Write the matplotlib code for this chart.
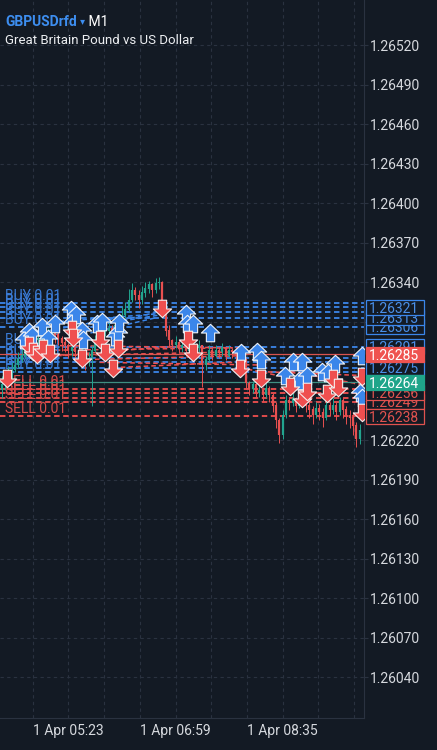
import matplotlib
matplotlib.use('Agg')
import matplotlib.pyplot as plt
from matplotlib.path import Path
from matplotlib.patches import Rectangle
from matplotlib.transforms import blended_transform_factory

plt.rcParams['font.family'] = ['Roboto', 'DejaVu Sans']

BG = '#131a24'
GRID = '#2a3240'
TXT = '#d6d9de'
BLUE = '#3b86ea'
RED = '#ef4f4f'
UPC = '#22a48f'
DNC = '#e85050'


def minutes(hhmm):
    h, m = hhmm.split(':')
    return int(h) * 60 + int(m)


# candles (one bar every 3 minutes from 04:23)
bar_start = '04:23'
bar_step = 3
first_open = 1.26258
closes = [1.26262, 1.26267, 1.26272, 1.26273, 1.26277, 1.26281, 1.26284, 1.26288, 1.26292, 1.26294,
          1.26296, 1.26297, 1.26299, 1.26297, 1.26300, 1.26302, 1.26300, 1.26297, 1.26294, 1.26292,
          1.26288, 1.26290, 1.26287, 1.26284, 1.26288, 1.26281, 1.26282, 1.26288, 1.26296, 1.26300,
          1.26302, 1.26303, 1.26305, 1.26303, 1.26307, 1.26311, 1.26315, 1.26319, 1.26326, 1.26334,
          1.26330, 1.26326, 1.26332, 1.26335, 1.26338, 1.26334, 1.26339, 1.26340, 1.26319, 1.26303,
          1.26296, 1.26292, 1.26294, 1.26290, 1.26292, 1.26288, 1.26294, 1.26291, 1.26290, 1.26292,
          1.26277, 1.26281, 1.26288, 1.26284, 1.26288, 1.26287, 1.26290, 1.26284, 1.26288, 1.26287,
          1.26284, 1.26282, 1.26281, 1.26263, 1.26259, 1.26262, 1.26256, 1.26258, 1.26254, 1.26259,
          1.26254, 1.26246, 1.26235, 1.26224, 1.26239, 1.26250, 1.26248, 1.26252, 1.26246, 1.26250,
          1.26254, 1.26246, 1.26243, 1.26239, 1.26244, 1.26241, 1.26237, 1.26246, 1.26243, 1.26246,
          1.26241, 1.26250, 1.26243, 1.26239, 1.26237, 1.26231, 1.26221, 1.26227]
highs = [1.26269, 1.26272, 1.26276, 1.26279, 1.26282, 1.26287, 1.26290, 1.26293, 1.26296, 1.26299,
         1.26300, 1.26302, 1.26303, 1.26301, 1.26305, 1.26306, 1.26303, 1.26302, 1.26299, 1.26297,
         1.26294, 1.26294, 1.26292, 1.26290, 1.26292, 1.26290, 1.26287, 1.26292, 1.26300, 1.26303,
         1.26306, 1.26308, 1.26310, 1.26307, 1.26311, 1.26316, 1.26322, 1.26325, 1.26335, 1.26339,
         1.26336, 1.26334, 1.26337, 1.26340, 1.26341, 1.26339, 1.26343, 1.26344, 1.26341, 1.26322,
         1.26307, 1.26297, 1.26299, 1.26296, 1.26296, 1.26294, 1.26297, 1.26296, 1.26294, 1.26296,
         1.26292, 1.26284, 1.26292, 1.26290, 1.26292, 1.26291, 1.26294, 1.26291, 1.26292, 1.26290,
         1.26289, 1.26287, 1.26285, 1.26282, 1.26265, 1.26265, 1.26263, 1.26262, 1.26260, 1.26263,
         1.26261, 1.26256, 1.26249, 1.26237, 1.26243, 1.26254, 1.26253, 1.26256, 1.26253, 1.26254,
         1.26258, 1.26256, 1.26249, 1.26246, 1.26249, 1.26247, 1.26244, 1.26250, 1.26249, 1.26252,
         1.26249, 1.26253, 1.26252, 1.26246, 1.26243, 1.26241, 1.26234, 1.26232]
lows = [1.26252, 1.26258, 1.26264, 1.26267, 1.26272, 1.26275, 1.26279, 1.26282, 1.26287, 1.26288,
        1.26291, 1.26293, 1.26294, 1.26293, 1.26296, 1.26297, 1.26294, 1.26292, 1.26288, 1.26287,
        1.26282, 1.26284, 1.26281, 1.26277, 1.26279, 1.26273, 1.26276, 1.26246, 1.26287, 1.26294,
        1.26297, 1.26299, 1.26300, 1.26299, 1.26302, 1.26306, 1.26310, 1.26313, 1.26317, 1.26325,
        1.26326, 1.26320, 1.26323, 1.26329, 1.26332, 1.26329, 1.26332, 1.26335, 1.26315, 1.26299,
        1.26291, 1.26288, 1.26290, 1.26286, 1.26287, 1.26284, 1.26287, 1.26287, 1.26285, 1.26287,
        1.26260, 1.26273, 1.26279, 1.26281, 1.26283, 1.26282, 1.26284, 1.26281, 1.26283, 1.26282,
        1.26279, 1.26276, 1.26272, 1.26259, 1.26254, 1.26256, 1.26252, 1.26253, 1.26250, 1.26252,
        1.26249, 1.26241, 1.26229, 1.26218, 1.26221, 1.26237, 1.26243, 1.26246, 1.26241, 1.26244,
        1.26246, 1.26241, 1.26237, 1.26232, 1.26237, 1.26235, 1.26230, 1.26235, 1.26238, 1.26240,
        1.26235, 1.26239, 1.26237, 1.26232, 1.26229, 1.26224, 1.26215, 1.26217]

# open positions (dashed levels)
buy_levels = [1.26324, 1.26321, 1.26317, 1.26313, 1.26306, 1.26291, 1.26282, 1.26279, 1.26275, 1.26272]
sell_levels = [1.26259, 1.26256, 1.26252, 1.26249, 1.26238]
lot_text = '0.01'

# deals (arrows)
buy_times = ['04:43', '04:48', '04:50', '04:59', '05:05', '05:11', '05:25', '05:26', '05:30', '05:35',
             '05:36', '05:49', '05:53', '06:05', '06:07', '06:08', '07:08', '07:09', '07:15', '07:30',
             '07:58', '08:12', '08:16', '08:37', '08:44', '08:50', '08:52', '08:57', '09:10', '09:16',
             '09:22', '09:44', '09:46', '09:46']
buy_prices = [1.26296, 1.26302, 1.26299, 1.26306, 1.26297, 1.26308, 1.26319, 1.26309, 1.26315, 1.26303,
              1.26296, 1.26308, 1.26310, 1.26298, 1.26301, 1.26309, 1.26316, 1.26308, 1.26308, 1.26301,
              1.26286, 1.26287, 1.26281, 1.26269, 1.26279, 1.26265, 1.26279, 1.26269, 1.26272, 1.26271,
              1.26278, 1.26256, 1.26252, 1.26284]
sell_times = ['04:28', '04:48', '04:51', '04:55', '05:00', '05:06', '05:26', '05:27', '05:35', '05:51',
              '05:56', '06:03', '06:07', '06:47', '07:10', '07:15', '07:57', '08:16', '08:42', '08:52',
              '08:57', '09:15', '09:20', '09:25', '09:46', '09:46']
sell_prices = [1.26267, 1.26292, 1.26288, 1.26285, 1.26290, 1.26286, 1.26304, 1.26298, 1.26282, 1.26297,
               1.26287, 1.26275, 1.26290, 1.26320, 1.26297, 1.26287, 1.26275, 1.26267, 1.26261, 1.26252,
               1.26257, 1.26256, 1.26267, 1.26260, 1.26269, 1.26241]

# closed trade lines: (open time, open price, close time, close price)
buy_links = [('05:15', 1.26310, '06:45', 1.26316), ('05:31', 1.26305, '06:45', 1.26315),
             ('05:45', 1.26306, '06:42', 1.26317), ('05:36', 1.26300, '06:42', 1.26313),
             ('04:58', 1.26302, '06:09', 1.26313)]
sell_links = [('04:48', 1.26292, '07:57', 1.26290), ('04:51', 1.26288, '07:50', 1.26290),
              ('05:06', 1.26284, '07:57', 1.26287), ('05:33', 1.26281, '07:57', 1.26284),
              ('05:51', 1.26279, '08:15', 1.26277), ('06:03', 1.26275, '07:50', 1.26279),
              ('04:57', 1.26283, '07:09', 1.26292), ('07:57', 1.26275, '08:42', 1.26267),
              ('08:15', 1.26272, '09:47', 1.26269), ('08:42', 1.26272, '09:47', 1.26262)]

ask_price = 1.26285
bid_price = 1.26264
blue_tags = [1.26306, 1.26313, 1.26321, 1.26275, 1.26291]
red_tags = [1.26249, 1.26238, 1.26256]

price_ticks = [1.26040, 1.26070, 1.26100, 1.26130, 1.26160, 1.26190, 1.26220, 1.26250, 1.26280,
               1.26310, 1.26340, 1.26370, 1.26400, 1.26430, 1.26460, 1.26490, 1.26520]
grid_times = ['04:51', '05:23', '05:55', '06:27', '06:59', '07:31', '08:03', '08:35', '09:07', '09:39']
labeled_times = ['05:23', '06:59', '08:35']
date_text = '1 Apr'

# ---- figure ----
fig = plt.figure(figsize=(4.37, 7.5), dpi=100)
fig.patch.set_facecolor(BG)
ax = fig.add_axes([0, 32 / 750, 364 / 437, 718 / 750])
ax.set_facecolor(BG)
ax.set_xlim(261.6, 587.9)
ax.set_ylim(1.260089, 1.265542)
ax.set_axisbelow(True)

for s in ['top', 'left']:
    ax.spines[s].set_visible(False)
for s in ['right', 'bottom']:
    ax.spines[s].set_color(GRID)
    ax.spines[s].set_linewidth(0.8)

ax.yaxis.tick_right()
ax.set_yticks(price_ticks)
ax.set_yticklabels(['%.5f' % p for p in price_ticks])
ax.tick_params(axis='y', length=3, color=GRID, labelcolor=TXT, labelsize=10, pad=1.5)
gt = [minutes(t) for t in grid_times]
ax.set_xticks(gt)
ax.set_xticklabels([date_text + ' ' + t if t in labeled_times else '' for t in grid_times])
ax.tick_params(axis='x', length=0, labelcolor=TXT, labelsize=10, pad=4)
ax.grid(True, color=GRID, lw=0.8, ls=(0, (3, 3)))

tr = blended_transform_factory(ax.transAxes, ax.transData)

# position levels
for lv in buy_levels:
    ax.axhline(lv, color=BLUE, lw=1.3, ls=(0, (3, 2)), zorder=2)
    ax.text(0.014, lv, 'BUY ' + lot_text, transform=tr, color='#3a7bd5', fontsize=10,
            va='bottom', ha='left', zorder=2.2)
for lv in sell_levels:
    ax.axhline(lv, color=RED, lw=1.3, ls=(0, (3, 2)), zorder=2)
    ax.text(0.014, lv, 'SELL ' + lot_text, transform=tr, color='#d94c4a', fontsize=10,
            va='bottom', ha='left', zorder=2.2)

for t0, p0, t1, p1 in buy_links:
    ax.plot([minutes(t0), minutes(t1)], [p0, p1], color=BLUE, lw=1.1, ls=(0, (3, 2)), zorder=2)
for t0, p0, t1, p1 in sell_links:
    ax.plot([minutes(t0), minutes(t1)], [p0, p1], color=RED, lw=1.1, ls=(0, (3, 2)), zorder=2)

ax.axhline(ask_price, color='#d9534f', lw=0.9, zorder=2.4)
ax.axhline(bid_price, color='#3f8f82', lw=0.9, zorder=2.4)

# candles
opens = [first_open] + closes[:-1]
t0 = minutes(bar_start)
for i, (o, c, h, l) in enumerate(zip(opens, closes, highs, lows)):
    x = t0 + i * bar_step
    col = UPC if c >= o else DNC
    ax.vlines(x, min(l, o, c), max(h, o, c), color=col, lw=0.7, zorder=3)
    ax.vlines(x, min(o, c), max(o, c) + 0.000003, color=col, lw=1.6, zorder=3)

# deal arrows
up = Path([(0, 1), (1, 0.05), (0.45, 0.05), (0.45, -0.9), (-0.45, -0.9), (-0.45, 0.05), (-1, 0.05), (0, 1)],
          [Path.MOVETO] + [Path.LINETO] * 6 + [Path.CLOSEPOLY])
down = Path([(x, -y) for x, y in up.vertices], up.codes)
ax.scatter([minutes(t) for t in buy_times], buy_prices, marker=up, s=175, c=BLUE,
           edgecolors='#eef3fa', linewidths=0.8, zorder=4)
ax.scatter([minutes(t) for t in sell_times], sell_prices, marker=down, s=175, c=RED,
           edgecolors='#f6eeee', linewidths=0.8, zorder=4)

# price tags on the right scale (box half height in price units ~7.5 px)
half = 0.000057


def tag(price, fc, ec, tc, z):
    ax.add_patch(Rectangle((1.005, price - half), 0.161, 2 * half, transform=tr, fc=fc, ec=ec,
                           lw=0.9, clip_on=False, zorder=z))
    ax.text(1.083, price, '%.5f' % price, transform=tr, fontsize=10, color=tc, va='center_baseline',
            ha='center', clip_on=False, zorder=z + 0.001)


for k, p in enumerate(blue_tags):
    tag(p, BG, BLUE, '#4a8fe8', 6 + k * 0.01)
tag(ask_price, '#ef5350', '#ef5350', 'white', 6.2)
for k, p in enumerate(red_tags):
    tag(p, BG, '#e0524f', '#e0524f', 6.3 + k * 0.01)
tag(bid_price, '#1fa58a', '#1fa58a', 'white', 6.5)

# header
t1 = fig.text(5 / 437, 1 - 22 / 750, 'GBPUSDrfd', color='#3d8ef0', fontsize=10, fontweight='bold',
              va='center', ha='left')
a1 = ax.annotate(' \u25be', xy=(1, 0.5), xycoords=t1, va='center', ha='left', fontsize=7,
                 color='#3d8ef0', family=['DejaVu Sans'], annotation_clip=False)
ax.annotate(' M1', xy=(1, 0.5), xycoords=a1, va='center', ha='left', fontsize=10, color='white',
            annotation_clip=False)
fig.text(5 / 437, 1 - 40 / 750, 'Great Britain Pound vs US Dollar', color='#eceef1', fontsize=9.5,
         va='center', ha='left')

fig.savefig('out.png', dpi=100, facecolor=BG)
